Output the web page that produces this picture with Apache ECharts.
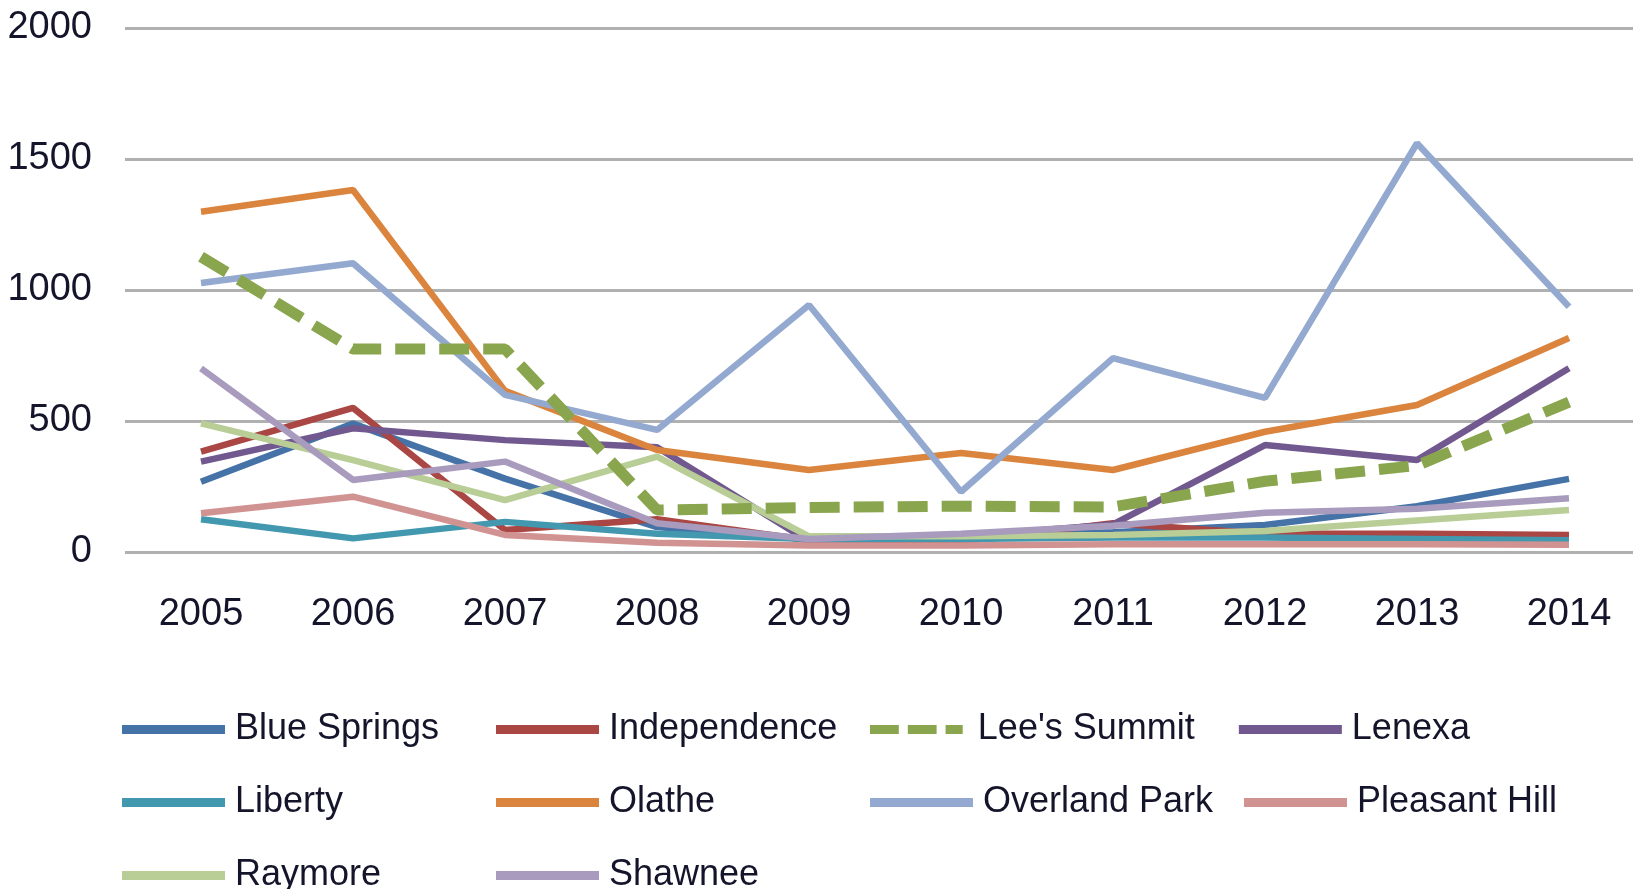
<!DOCTYPE html>
<html>
<head>
<meta charset="utf-8">
<script src="https://cdn.jsdelivr.net/npm/echarts@6/dist/echarts.min.js"></script>
<style>
  html, body { margin: 0; padding: 0; background: #fff; }
  #chart { width: 1633px; height: 889px; }
</style>
</head>
<body>
<div id="chart"></div>
<script>
const years = ['2005', '2006', '2007', '2008', '2009', '2010', '2011', '2012', '2013', '2014']
const yTicks = [0, 500, 1000, 1500, 2000]

const blueSprings = [268, 490, 280, 95, 50, 55, 75, 103, 175, 279]
const independence = [383, 550, 84, 125, 45, 40, 110, 70, 70, 65]
const leesSummit = [1127, 775, 775, 160, 170, 175, 172, 270, 330, 572]
const lenexa = [345, 472, 427, 400, 40, 60, 105, 408, 351, 701]
const liberty = [125, 52, 115, 70, 50, 50, 55, 55, 50, 45]
const olathe = [1299, 1382, 615, 389, 313, 378, 313, 459, 561, 817]
const overlandPark = [1027, 1102, 600, 466, 943, 230, 740, 588, 1560, 936]
const pleasantHill = [148, 211, 65, 35, 25, 25, 30, 30, 30, 28]
const raymore = [491, 351, 198, 364, 60, 60, 65, 80, 120, 160]
const shawnee = [701, 275, 345, 110, 50, 70, 100, 150, 165, 205]

const names = ['Blue Springs', 'Independence', "Lee's Summit", 'Lenexa', 'Liberty',
  'Olathe', 'Overland Park', 'Pleasant Hill', 'Raymore', 'Shawnee']
const values = [blueSprings, independence, leesSummit, lenexa, liberty,
  olathe, overlandPark, pleasantHill, raymore, shawnee]
const colors = ['#4572A7', '#AA4643', '#89A54E', '#71588F', '#4198AF',
  '#DB843D', '#93A9CF', '#D19392', '#B9CD96', '#A99BBD']

const font = '"Liberation Sans", Arial, sans-serif'
const textColor = '#14142a'
// dashed legend marker for Lee's Summit
const dashIcon = 'path://M0,0h32v10h-32z M42,0h32v10h-32z M84,0h19v10h-19z'

let chart = echarts.init(document.getElementById('chart'))

let series = names.map((name, i) => {
  let dashed = name === "Lee's Summit"
  return {
    name: name,
    type: 'line',
    xAxisIndex: 1,
    yAxisIndex: 1,
    data: values[i],
    symbol: 'none',
    showSymbol: false,
    z: dashed ? 3 : 2,
    lineStyle: {
      color: colors[i],
      width: dashed ? 11 : 6.5,
      type: dashed ? [30, 14] : 'solid'
    },
    itemStyle: { color: colors[i] }
  }
})

let yRange = { min: yTicks[0], max: yTicks[yTicks.length - 1], interval: 500 }

let option = {
  animation: false,
  color: colors,
  // grid 0 carries the full-width gridlines and y labels, grid 1 the data
  grid: [
    { left: 125, right: 0, top: 28, height: 524 },
    { left: 201, width: 1368, top: 28, height: 524 }
  ],
  xAxis: [
    { type: 'category', gridIndex: 0, data: years, show: false },
    {
      type: 'category',
      gridIndex: 1,
      data: years,
      boundaryGap: false,
      axisLine: { show: false },
      axisTick: { show: false },
      splitLine: { show: false },
      axisLabel: {
        margin: 44,
        fontSize: 38,
        fontFamily: font,
        color: textColor
      }
    }
  ],
  yAxis: [
    {
      type: 'value',
      gridIndex: 0,
      ...yRange,
      axisLine: { show: false },
      axisTick: { show: false },
      axisLabel: {
        margin: 33,
        fontSize: 38,
        fontFamily: font,
        color: textColor,
        padding: [8, 0, 0, 0],
        formatter: v => String(v)
      },
      splitLine: {
        lineStyle: { color: '#b0b0b0', width: 3 }
      }
    },
    {
      type: 'value',
      gridIndex: 1,
      ...yRange,
      show: false,
      splitLine: { show: false }
    }
  ],
  legend: {
    data: names.map(n => ({ name: n, icon: n === "Lee's Summit" ? dashIcon : 'rect' })),
    left: 122,
    top: 693,
    width: 1510,
    padding: 0,
    itemGap: 0,
    itemWidth: 103,
    itemHeight: 9,
    textStyle: {
      fontSize: 36,
      fontFamily: font,
      color: textColor,
      width: 261,
      padding: [0, 0, 0, 5],
      lineHeight: 73,
      overflow: 'truncate'
    }
  },
  series: series
}

chart.setOption(option)
</script>
</body>
</html>
